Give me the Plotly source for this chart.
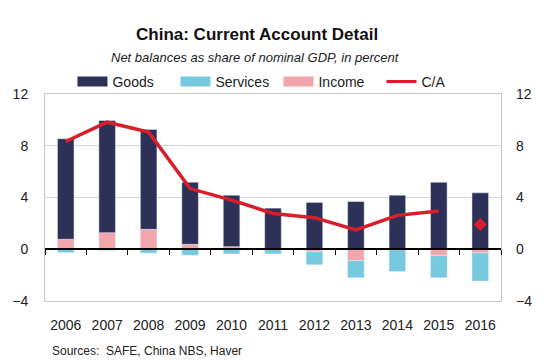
import plotly.graph_objects as go

years = ["2006", "2007", "2008", "2009", "2010", "2011", "2012", "2013", "2014", "2015", "2016"]
goods = [7.77, 8.67, 7.72, 4.80, 3.98, 3.16, 3.62, 3.69, 4.13, 5.18, 4.36]
services = [-0.26, -0.10, -0.30, -0.46, -0.36, -0.36, -1.02, -1.33, -1.72, -1.71, -2.18]
income = [0.77, 1.28, 1.54, 0.38, 0.20, 0.02, -0.18, -0.87, 0.05, -0.49, -0.28]
ca = [8.33, 9.82, 9.05, 4.69, 3.80, 2.77, 2.44, 1.49, 2.62, 2.95, None]
ca_2016 = [None] * 10 + [1.92]

yticks = [-4, 0, 4, 8, 12]

C_GOODS = "#2e3157"
C_SERV = "#76c9df"
C_INC = "#f2a6ab"
C_CA = "#d71f2b"
FONT = "Liberation Sans Narrow, Arial Narrow, Liberation Sans, Arial, sans-serif"
TXT = "#222222"

W, H = 549, 364
ML, MR, MT, MB = 36, 48, 94, 63
PW, PH = W - ML - MR, H - MT - MB


def px_x(x):
    return (x - ML) / PW


def px_y(y):
    return (H - MB - y) / PH


fig = go.Figure()
bw = 0.4
# stacking order: income nearest zero, then goods (+) / services (-)
fig.add_trace(go.Bar(x=years, y=income, marker_color=C_INC, width=bw, showlegend=False))
fig.add_trace(go.Bar(x=years, y=goods, marker_color=C_GOODS, width=bw, showlegend=False))
fig.add_trace(go.Bar(x=years, y=services, marker_color=C_SERV, width=bw, showlegend=False))
fig.add_trace(go.Scatter(x=years, y=ca, mode="lines", line=dict(color=C_CA, width=3.5),
                         showlegend=False))
fig.add_trace(go.Scatter(x=years, y=ca_2016, mode="markers",
                         marker=dict(symbol="diamond", size=10, color=C_CA), showlegend=False))

# legend entries (wide swatches)
for name, col in [("Goods", C_GOODS), ("Services", C_SERV), ("Income", C_INC)]:
    fig.add_trace(go.Scatter(x=[None], y=[None], mode="lines", name=name,
                             line=dict(color=col, width=10)))
fig.add_trace(go.Scatter(x=[None], y=[None], mode="lines", name="C/A",
                         line=dict(color=C_CA, width=3)))

# right axis dummy and zero-line axis dummy
fig.add_trace(go.Scatter(x=years, y=[None] * len(years), yaxis="y2", showlegend=False, hoverinfo="skip"))
fig.add_trace(go.Scatter(x=list(range(len(years))), y=[None] * len(years), xaxis="x2",
                         showlegend=False, hoverinfo="skip"))

n = len(years)
fig.update_layout(
    width=W, height=H,
    margin=dict(l=ML, r=MR, t=MT, b=MB),
    paper_bgcolor="white", plot_bgcolor="white",
    barmode="relative",
    font=dict(family=FONT, size=14, color=TXT),
    showlegend=True,
    legend=dict(orientation="h", x=px_x(64), xanchor="left", y=px_y(82),
                yanchor="middle", font=dict(size=14, color=TXT),
                itemwidth=30, entrywidth=58, entrywidthmode="pixels",
                tracegroupgap=0, bgcolor="rgba(0,0,0,0)"),
    xaxis=dict(type="category", range=[-0.5, n - 0.5], showgrid=False, ticks="",
               showline=True, linecolor="#c8c8c8", linewidth=1, mirror=True,
               tickfont=dict(size=14, color=TXT), ticklabelstandoff=11),
    xaxis2=dict(overlaying="x", anchor="free", position=0.25, range=[-0.5, n - 0.5],
                tickvals=[i - 0.5 for i in range(n + 1)], ticks="outside", ticklen=5,
                tickcolor="black", tickwidth=1, showticklabels=False, showgrid=False,
                showline=True, linecolor="black", linewidth=1.5, zeroline=False),
    yaxis=dict(range=[-4, 12], tickvals=yticks, showgrid=True, gridcolor="#d3d3d3",
               gridwidth=1, zeroline=False, showline=True, linecolor="#c8c8c8",
               mirror=True, tickfont=dict(size=14, color=TXT), ticks="",
               ticklabelstandoff=13),
    yaxis2=dict(overlaying="y", side="right", range=[-4, 12], tickvals=yticks,
                showgrid=False, zeroline=False, tickfont=dict(size=14, color=TXT),
                ticks="", ticklabelstandoff=14),
)
fig.add_annotation(text="<b>China: Current Account Detail</b>", xref="paper", yref="paper",
                   x=px_x(252), y=px_y(34), yanchor="middle", xanchor="center",
                   showarrow=False, font=dict(size=17, color="#111111"))
fig.add_annotation(text="<i>Net balances as share of nominal GDP, in percent</i>", xref="paper",
                   yref="paper", x=px_x(251), y=px_y(57),
                   yanchor="middle", xanchor="center", showarrow=False,
                   font=dict(size=13, color=TXT))
fig.add_annotation(text="Sources:  SAFE, China NBS, Haver", xref="paper", yref="paper",
                   x=px_x(41), y=px_y(351), xanchor="left", yanchor="middle",
                   showarrow=False, font=dict(size=12, color=TXT))

fig.write_html("out.html", config={"displayModeBar": False},
               post_script="document.body.style.margin='0';document.body.style.overflow='hidden';")
